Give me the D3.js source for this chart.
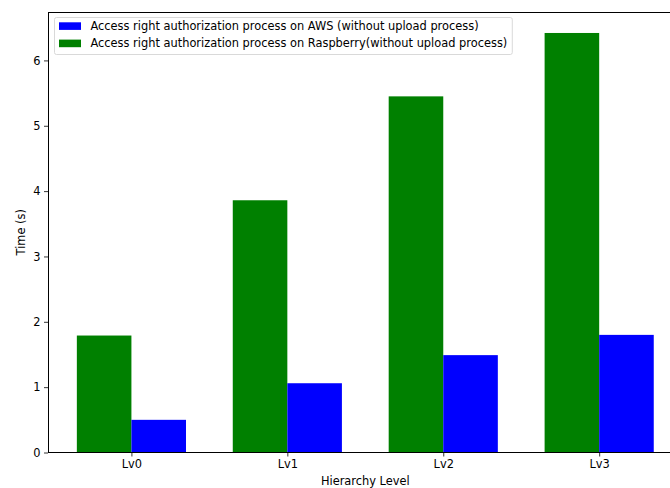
<!DOCTYPE html>
<html>
<head>
<meta charset="utf-8">
<script src="https://cdn.jsdelivr.net/npm/d3@7"></script>
<style>
  html, body { margin: 0; padding: 0; background: #fff; }
  svg { display: block; font-family: "DejaVu Sans", sans-serif; }
</style>
</head>
<body>
<svg id="chart" width="670" height="488"></svg>
<script>
// Hierarchy levels and measured times (seconds)
const levels = ["Lv0", "Lv1", "Lv2", "Lv3"];
const raspberryTimes = [1.79, 3.86, 5.45, 6.42];
const awsTimes = [0.50, 1.06, 1.49, 1.80];
const yTicks = [0, 1, 2, 3, 4, 5, 6];

const legendLabels = [
  "Access right authorization process on AWS (without upload process)",
  "Access right authorization process on Raspberry(without upload process)"
];
const colors = { aws: "#0000ff", raspberry: "#008000" };

const FS = 11.4;
const margin = { left: 48, top: 12, right: 682.6, bottom: 452.5 };
const barW = 0.35;

const svg = d3.select("#chart");

// Linear x scale over level index with 5% padding on each side
const xmin = -barW, xmax = levels.length - 1 + barW;
const pad = (xmax - xmin) * 0.05;
const x = d3.scaleLinear().domain([xmin - pad, xmax + pad]).range([margin.left, margin.right]);

const ymax = d3.max(raspberryTimes.concat(awsTimes)) * 1.05;
const y = d3.scaleLinear().domain([0, ymax]).range([margin.bottom, margin.top]);

const plot = svg.append("g");

// Raspberry bars (left of each tick)
plot.selectAll("rect.rasp").data(raspberryTimes).join("rect")
  .attr("class", "rasp")
  .attr("x", (d, i) => x(i - barW))
  .attr("width", (d, i) => x(i) - x(i - barW))
  .attr("y", d => y(d))
  .attr("height", d => y(0) - y(d))
  .attr("fill", colors.raspberry);

// AWS bars (right of each tick)
plot.selectAll("rect.aws").data(awsTimes).join("rect")
  .attr("class", "aws")
  .attr("x", (d, i) => x(i))
  .attr("width", (d, i) => x(i + barW) - x(i))
  .attr("y", d => y(d))
  .attr("height", d => y(0) - y(d))
  .attr("fill", colors.aws);

// Axes
const xAxis = d3.axisBottom(x)
  .tickValues(levels.map((d, i) => i))
  .tickFormat(i => levels[i])
  .tickSize(4).tickPadding(3.5);
const gx = svg.append("g").attr("transform", `translate(0,${margin.bottom})`).call(xAxis);

const yAxis = d3.axisLeft(y).tickValues(yTicks).tickFormat(d3.format("d"))
  .tickSize(4).tickPadding(3.5);
const gy = svg.append("g").attr("transform", `translate(${margin.left},0)`).call(yAxis);

[gx, gy].forEach(g => {
  g.select(".domain").remove();
  g.selectAll(".tick line").attr("stroke", "#000").attr("stroke-width", 0.8);
  g.selectAll(".tick text").attr("fill", "#000")
    .style("font-family", "'DejaVu Sans', sans-serif").style("font-size", FS + "px");
});

// Frame
svg.append("rect")
  .attr("x", margin.left).attr("y", margin.top)
  .attr("width", margin.right - margin.left).attr("height", margin.bottom - margin.top)
  .attr("fill", "none").attr("stroke", "#000").attr("stroke-width", 1)
  .attr("shape-rendering", "crispEdges");

// Axis titles
svg.append("text")
  .attr("x", (margin.left + margin.right) / 2).attr("y", 485)
  .attr("text-anchor", "middle").attr("font-size", FS).attr("fill", "#000")
  .text("Hierarchy Level");

svg.append("text")
  .attr("transform", `translate(25,${(margin.top + margin.bottom) / 2}) rotate(-90)`)
  .attr("text-anchor", "middle").attr("font-size", FS).attr("fill", "#000")
  .text("Time (s)");

// Legend
const lg = svg.append("g").attr("transform", "translate(54.5,17.5)");
const entries = [
  { label: legendLabels[0], color: colors.aws },
  { label: legendLabels[1], color: colors.raspberry }
];
const box = lg.append("rect")
  .attr("x", 0).attr("y", 0).attr("height", 37).attr("rx", 2)
  .attr("fill", "#fff").attr("fill-opacity", 0.8)
  .attr("stroke", "#d9d9d9").attr("stroke-width", 1);
const rows = lg.selectAll("g.row").data(entries).join("g")
  .attr("class", "row")
  .attr("transform", (d, i) => `translate(0,${i * 17.3})`);
rows.append("rect")
  .attr("x", 4.5).attr("y", 4.8).attr("width", 22).attr("height", 7.6)
  .attr("fill", d => d.color);
const texts = rows.append("text")
  .attr("x", 36).attr("y", 12.7)
  .attr("font-size", FS).attr("fill", "#000")
  .text(d => d.label);
let maxW = 0;
texts.each(function () { maxW = Math.max(maxW, this.getComputedTextLength()); });
box.attr("width", 36 + maxW + 5);
</script>
</body>
</html>
